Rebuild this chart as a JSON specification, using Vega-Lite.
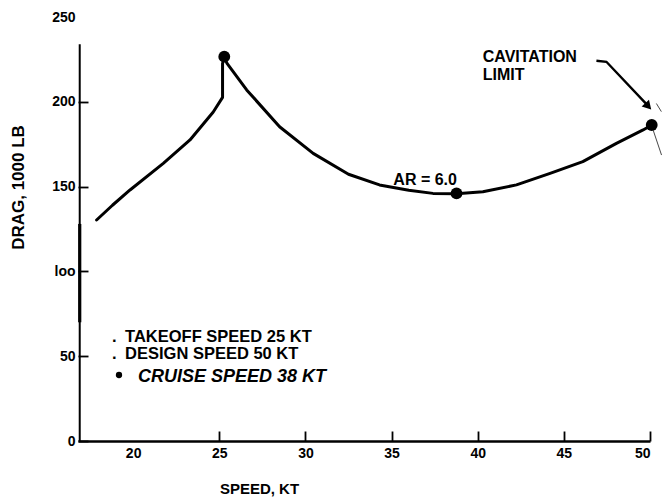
{
  "$schema": "https://vega.github.io/schema/vega-lite/v6.json",
  "width": 572,
  "height": 424,
  "autosize": {"type": "none"},
  "padding": {"left": 78, "top": 17, "right": 12, "bottom": 58},
  "background": "white",
  "config": {"view": {"stroke": null}, "font": "Liberation Sans"},
  "datasets": {
    "curve": [
      {"i": 1, "s": 17.88, "d": 130.3},
      {"i": 2, "s": 18.8, "d": 139.0},
      {"i": 3, "s": 19.82, "d": 148.0},
      {"i": 4, "s": 21.75, "d": 163.7},
      {"i": 5, "s": 23.3, "d": 177.5},
      {"i": 6, "s": 24.65, "d": 194.0},
      {"i": 7, "s": 25.19, "d": 202.6},
      {"i": 8, "s": 25.19, "d": 222.5},
      {"i": 9, "s": 25.29, "d": 226.5},
      {"i": 10, "s": 25.45, "d": 222.6},
      {"i": 11, "s": 26.59, "d": 207.0},
      {"i": 12, "s": 28.5, "d": 185.3},
      {"i": 13, "s": 30.45, "d": 169.6},
      {"i": 14, "s": 32.5, "d": 157.3},
      {"i": 15, "s": 34.3, "d": 151.0},
      {"i": 16, "s": 36.0, "d": 147.8},
      {"i": 17, "s": 37.4, "d": 146.0},
      {"i": 18, "s": 38.77, "d": 145.8},
      {"i": 19, "s": 40.3, "d": 147.0},
      {"i": 20, "s": 42.25, "d": 151.0},
      {"i": 21, "s": 44.2, "d": 157.8},
      {"i": 22, "s": 46.1, "d": 164.7},
      {"i": 23, "s": 48.05, "d": 175.5},
      {"i": 24, "s": 49.6, "d": 183.4},
      {"i": 25, "s": 50.1, "d": 186.3}
    ],
    "dots": [
      {"s": 25.29, "d": 226.6},
      {"s": 38.77, "d": 146.0},
      {"s": 50.1, "d": 186.3}
    ],
    "yline": [{"s": 16.9, "d": 0, "d2": 234}],
    "ythick": [{"s": 16.9, "d": 70, "d2": 128}],
    "arrow": [
      {"i": 1, "s": 46.89, "d": 224.2},
      {"i": 2, "s": 47.47, "d": 223.6},
      {"i": 3, "s": 49.85, "d": 198.0}
    ],
    "arrowhead": [{"s": 49.9, "d": 197.3}],
    "hatch": [
      {"g": "a", "i": 1, "s": 50.18, "d": 183.4},
      {"g": "a", "i": 2, "s": 50.67, "d": 168.6},
      {"g": "b", "i": 1, "s": 50.37, "d": 199.0},
      {"g": "b", "i": 2, "s": 50.66, "d": 194.2}
    ],
    "labels": [
      {"s": 36.95, "d": 153.9, "t": "AR = 6.0"}
    ],
    "cav": [
      {"s": 40.29, "d": 226.4, "t": "CAVITATION"},
      {"s": 40.29, "d": 215.9, "t": "LIMIT"}
    ],
    "legend": [
      {"s": 18.77, "d": 58.5, "t": "."},
      {"s": 19.53, "d": 58.5, "t": "TAKEOFF SPEED 25 KT"},
      {"s": 18.77, "d": 48.6, "t": "."},
      {"s": 19.53, "d": 48.6, "t": "DESIGN SPEED 50 KT"}
    ],
    "cruise": [{"s": 20.28, "d": 35.0, "t": "CRUISE SPEED 38 KT"}],
    "bullet": [{"s": 19.18, "d": 38.9}]
  },
  "layer": [
    {
      "data": {"name": "curve"},
      "mark": {"type": "line", "color": "black", "strokeWidth": 3, "strokeCap": "round", "strokeJoin": "round"},
      "encoding": {
        "x": {
          "field": "s", "type": "quantitative",
          "scale": {"domain": [16.8, 50], "nice": false, "zero": false},
          "axis": {
            "title": "SPEED, KT",
            "values": [20, 25, 30, 35, 40, 45, 50],
            "format": "d",
            "grid": false,
            "domain": true,
            "domainColor": "black",
            "domainWidth": 2.6,
            "tickColor": "black",
            "tickSize": -10,
            "tickWidth": 1.8,
            "tickOpacity": {"condition": {"test": "datum.value == 20", "value": 0}, "value": 1},
            "labelPadding": 15,
            "labelFont": "Liberation Sans",
            "labelColor": "black",
            "labelFontSize": 14,
            "labelFontWeight": "bold",
            "encode": {"labels": {"update": {
              "fontSize": {"signal": "datum.value == 50 ? 17 : datum.value == 30 ? 16 : 14"},
              "fontWeight": {"signal": "datum.value == 20 || datum.value == 30 ? 'normal' : 'bold'"},
              "fontStyle": {"signal": "datum.value == 20 ? 'italic' : 'normal'"},
              "fill": {"signal": "datum.value == 20 ? '#555555' : 'black'"}
            }}},
            "titleFont": "Liberation Sans",
            "titleFontSize": 15,
            "titleFontWeight": "bold",
            "titleColor": "black",
            "titleX": 181,
            "titleY": 47,
            "titleAlign": "center",
            "titleBaseline": "middle"
          }
        },
        "y": {
          "field": "d", "type": "quantitative",
          "scale": {"domain": [0, 250], "nice": false},
          "axis": {
            "title": "DRAG, 1000 LB",
            "values": [0, 50, 100, 150, 200, 250],
            "labelExpr": "datum.value == 100 ? 'loo' : datum.label",
            "grid": false,
            "domain": false,
            "tickColor": "black",
            "tickSize": -10,
            "tickWidth": 1.8,
            "tickOpacity": {"condition": {"test": "datum.value == 250", "value": 0}, "value": 1},
            "labelPadding": 13,
            "labelFont": "Liberation Sans",
            "labelColor": "black",
            "labelFontSize": 14,
            "labelFontWeight": "bold",
            "titleFont": "Liberation Sans",
            "titleFontSize": 17,
            "titleFontWeight": "bold",
            "titleColor": "black",
            "titleX": -60,
            "titleY": 170,
            "titleAlign": "center",
            "titleBaseline": "middle"
          }
        },
        "order": {"field": "i"}
      }
    },
    {
      "data": {"name": "yline"},
      "mark": {"type": "rule", "color": "black", "strokeWidth": 2},
      "encoding": {
        "x": {"field": "s", "type": "quantitative"},
        "y": {"field": "d", "type": "quantitative"},
        "y2": {"field": "d2"}
      }
    },
    {
      "data": {"name": "ythick"},
      "mark": {"type": "rule", "color": "black", "strokeWidth": 3.2},
      "encoding": {
        "x": {"field": "s", "type": "quantitative"},
        "y": {"field": "d", "type": "quantitative"},
        "y2": {"field": "d2"}
      }
    },
    {
      "data": {"name": "dots"},
      "mark": {"type": "point", "filled": true, "color": "black", "opacity": 1, "size": 140},
      "encoding": {
        "x": {"field": "s", "type": "quantitative"},
        "y": {"field": "d", "type": "quantitative"}
      }
    },
    {
      "data": {"name": "arrow"},
      "mark": {"type": "line", "color": "black", "strokeWidth": 2.4},
      "encoding": {
        "x": {"field": "s", "type": "quantitative"},
        "y": {"field": "d", "type": "quantitative"},
        "order": {"field": "i"}
      }
    },
    {
      "data": {"name": "arrowhead"},
      "mark": {"type": "point", "shape": "triangle-up", "filled": true, "color": "black", "opacity": 1, "size": 100, "angle": 137},
      "encoding": {
        "x": {"field": "s", "type": "quantitative"},
        "y": {"field": "d", "type": "quantitative"}
      }
    },
    {
      "data": {"name": "hatch"},
      "mark": {"type": "line", "color": "#333333", "strokeWidth": 0.9},
      "encoding": {
        "x": {"field": "s", "type": "quantitative"},
        "y": {"field": "d", "type": "quantitative"},
        "detail": {"field": "g"},
        "order": {"field": "i"}
      }
    },
    {
      "data": {"name": "labels"},
      "mark": {"type": "text", "font": "Liberation Sans", "fontSize": 16, "fontWeight": "bold", "color": "black", "align": "center", "baseline": "middle"},
      "encoding": {
        "x": {"field": "s", "type": "quantitative"},
        "y": {"field": "d", "type": "quantitative"},
        "text": {"field": "t"}
      }
    },
    {
      "data": {"name": "cav"},
      "mark": {"type": "text", "font": "Liberation Sans", "fontSize": 16, "fontWeight": "bold", "color": "black", "align": "left", "baseline": "middle"},
      "encoding": {
        "x": {"field": "s", "type": "quantitative"},
        "y": {"field": "d", "type": "quantitative"},
        "text": {"field": "t"}
      }
    },
    {
      "data": {"name": "legend"},
      "mark": {"type": "text", "font": "Liberation Sans", "fontSize": 16.5, "fontWeight": "bold", "color": "black", "align": "left", "baseline": "alphabetic"},
      "encoding": {
        "x": {"field": "s", "type": "quantitative"},
        "y": {"field": "d", "type": "quantitative"},
        "text": {"field": "t"}
      }
    },
    {
      "data": {"name": "cruise"},
      "mark": {"type": "text", "font": "Liberation Sans", "fontSize": 18, "fontWeight": "bold", "fontStyle": "italic", "color": "black", "align": "left", "baseline": "alphabetic"},
      "encoding": {
        "x": {"field": "s", "type": "quantitative"},
        "y": {"field": "d", "type": "quantitative"},
        "text": {"field": "t"}
      }
    },
    {
      "data": {"name": "bullet"},
      "mark": {"type": "point", "filled": true, "color": "black", "opacity": 1, "size": 40},
      "encoding": {
        "x": {"field": "s", "type": "quantitative"},
        "y": {"field": "d", "type": "quantitative"}
      }
    }
  ]
}
